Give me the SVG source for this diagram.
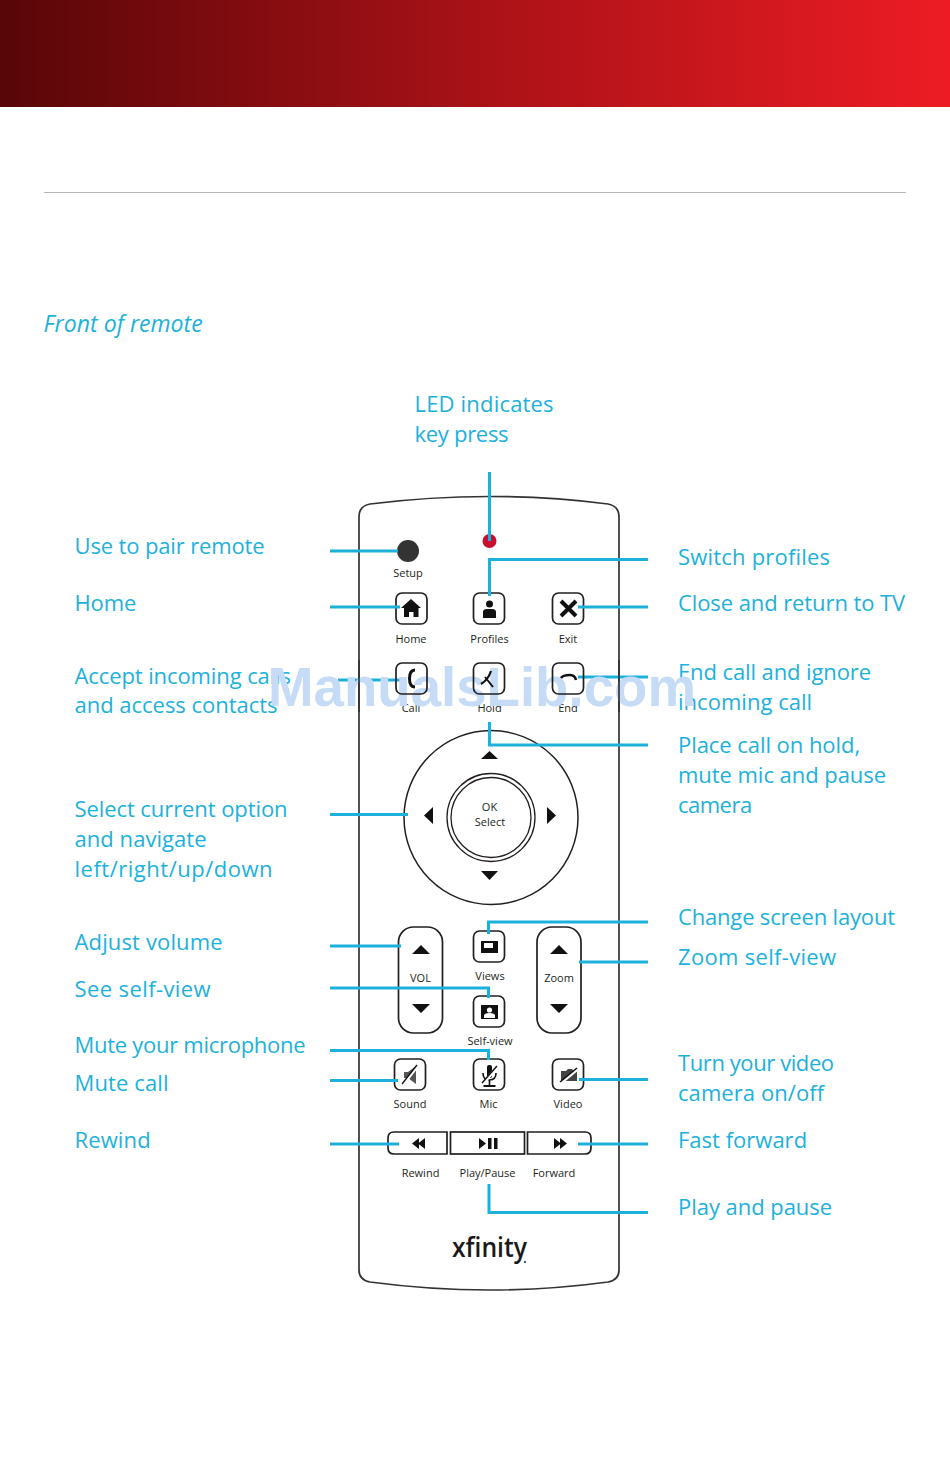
<svg xmlns="http://www.w3.org/2000/svg" width="950" height="1480" viewBox="0 0 950 1480">
<defs>
<linearGradient id="hdr" x1="0" x2="1" y1="0" y2="0"><stop offset="0" stop-color="#580608"/><stop offset="0.5" stop-color="#a81217"/><stop offset="1" stop-color="#ed1c24"/></linearGradient>
</defs>
<style>
text{font-family:"Open Sans","Noto Sans","Liberation Sans",sans-serif}
.lb{font-size:22px;fill:#1cb1dc;letter-spacing:-.1px}
.k{font-size:11px;fill:#231f20;text-anchor:middle}
.btn{fill:none;stroke:#231f20;stroke-width:1.7}
.c{fill:none;stroke:#1cb1dc;stroke-width:3}
.g{fill:#111}
.sl{stroke:#111;stroke-width:1.6;fill:none}
.wm{font-family:"Liberation Sans",sans-serif;font-size:56px;font-weight:700;fill:#c6dbf6}
</style>
<rect width="950" height="1480" fill="#fff"/>
<rect width="950" height="107" fill="url(#hdr)"/>
<line x1="44" x2="906" y1="192.500" y2="192.500" stroke="#b5b5b5" stroke-width="1"/>
<text x="43.500" y="332" font-size="23" font-style="italic" letter-spacing=".05" style="fill:#1cb1dc">Front of remote</text>
<g id="remote">
<path d="M370 504Q490 489 608 504Q619 506 619 517V1270Q619 1280 608 1282Q490 1298 370 1282Q359 1280 359 1270V517Q359 506 370 504Z" fill="#fff" stroke="#333" stroke-width="1.7"/>
</g>
<g id="led"><circle cx="489.500" cy="541" r="7" fill="#c8102e"/></g>
<g id="setup"><circle cx="408" cy="551" r="11" fill="#333"/><text class="k" x="408" y="576.500">Setup</text></g>
<g id="home"><rect class="btn" x="396" y="593" width="31" height="31" rx="6"/><path class="g" d="M411 599L421 608H418.500V617H413.500V612H409V617H404V608H401Z"/><text class="k" x="411" y="643">Home</text></g>
<g id="profiles"><rect class="btn" x="473.500" y="593" width="31" height="31" rx="6"/><circle class="g" cx="489.500" cy="604" r="3.500"/><path class="g" d="M483 618V612Q483 609 487 609H492Q496 609 496 612V618Z"/><text class="k" x="489.500" y="643">Profiles</text></g>
<g id="exit"><rect class="btn" x="552.500" y="593" width="31" height="31" rx="6"/><path d="M561 601L576 616M576 601L561 616" stroke="#111" stroke-width="4" fill="none"/><text class="k" x="568" y="643">Exit</text></g>
<g id="dpad">
<circle cx="491" cy="817.500" r="87" fill="none" stroke="#231f20" stroke-width="1.500"/>
<circle cx="491" cy="817.500" r="44" fill="none" stroke="#231f20" stroke-width="1.300"/>
<circle cx="491" cy="817.500" r="40" fill="none" stroke="#231f20" stroke-width="1.300"/>
<path class="g" d="M481 759H498L489.500 751ZM481 871H498L489.500 880ZM433 807V824L424 815.500ZM547 807V824L556 815.500Z"/>
<text class="k" x="489.500" y="811">OK</text><text class="k" x="490" y="826">Select</text>
</g>
<g id="vol"><rect class="btn" x="398.500" y="927" width="44" height="106" rx="15"/><path class="g" d="M412 954H430L421 945ZM412 1004H430L421 1013Z"/><text class="k" x="420.500" y="982">VOL</text></g>
<g id="zoom"><rect class="btn" x="537" y="927" width="44" height="106" rx="15"/><path class="g" d="M550 954H568L559 945ZM550 1004H568L559 1013Z"/><text class="k" x="559" y="982">Zoom</text></g>
<g id="views"><rect class="btn" x="473.500" y="931" width="31" height="31" rx="6"/><rect class="g" x="481" y="941" width="17" height="12"/><rect x="484" y="943" width="9" height="5" fill="#fff"/><text class="k" x="490" y="980">Views</text></g>
<g id="selfview"><rect class="btn" x="473.500" y="996" width="31" height="31" rx="6"/><rect class="g" x="481" y="1005" width="17" height="14"/><circle cx="489.500" cy="1010" r="2.600" fill="#fff"/><path d="M484 1018V1015Q485 1013 489.500 1013Q494 1013 495 1015V1018Z" fill="#fff"/><text class="k" x="490" y="1045">Self-view</text></g>
<g id="sound"><rect class="btn" x="394.500" y="1059" width="31" height="31" rx="6"/><path fill="#555" d="M404 1072H408L416 1066V1084L408 1078H404Z"/><path d="M403 1085L418 1066" stroke="#fff" stroke-width="2.500"/><path d="M402 1084L417 1065" stroke="#111" stroke-width="1.300"/><text class="k" x="410" y="1108">Sound</text></g>
<g id="mic"><rect class="btn" x="473.500" y="1059" width="31" height="31" rx="6"/><rect class="g" x="487" y="1065" width="5" height="13" rx="2"/><path class="sl" d="M483 1073Q483 1080 489.500 1080Q496 1080 496 1073M489.500 1080V1085"/><path d="M483.500 1086H495.500" stroke="#111" stroke-width="2"/><path d="M483 1084L497 1067" stroke="#fff" stroke-width="3"/><path d="M482 1083L497 1066" stroke="#111" stroke-width="1.400"/><text class="k" x="488.500" y="1108">Mic</text></g>
<g id="video"><rect class="btn" x="552.500" y="1059" width="31" height="31" rx="6"/><path fill="#444" d="M561 1071H566L568 1069H572L574 1072L577 1070V1081H561Z"/><path d="M560 1084L577 1070" stroke="#fff" stroke-width="2.500"/><path class="sl" d="M560 1082L577 1068"/><text class="k" x="568" y="1108">Video</text></g>
<g id="rewind"><path class="btn" d="M447 1132V1154H394Q388 1154 388 1148V1138Q388 1132 394 1132Z"/><path class="g" d="M419 1138V1149L412 1143.500ZM425 1138V1149L418 1143.500Z"/><text class="k" x="420.500" y="1177">Rewind</text></g>
<g id="playpause"><rect class="btn" x="450.500" y="1132" width="74" height="22"/><path class="g" d="M479 1138V1149L486 1143.500Z"/><rect class="g" x="488" y="1138" width="3.500" height="11"/><rect class="g" x="494" y="1138" width="3.500" height="11"/><text class="k" x="487.500" y="1177">Play/Pause</text></g>
<g id="forward"><path class="btn" d="M527.500 1132H585Q591 1132 591 1138V1148Q591 1154 585 1154H527.500Z"/><path class="g" d="M554 1138V1149L561 1143.500ZM560 1138V1149L567 1143.500Z"/><text class="k" x="554" y="1177">Forward</text></g>
<g id="logo"><text x="452" y="1257" font-size="27" font-weight="600" textLength="75" lengthAdjust="spacingAndGlyphs" style="fill:#1a1a1a">xfinity</text><circle cx="525" cy="1262" r="1" fill="#1a1a1a"/></g>
<g id="connectors">
<path class="c" d="M489.500 472V541"/>
<path class="c" d="M330 551H398"/>
<path class="c" d="M648 559.500H489.500V596"/>
<path class="c" d="M330 607H400"/>
<path class="c" d="M648 607H578"/>
<path class="c" d="M338 680H400"/>
<path class="c" d="M648 677H578"/>
<path class="c" d="M648 745H489.500V722"/>
<path class="c" d="M330 814.500H408"/>
<path class="c" d="M648 922H488.500V934"/>
<path class="c" d="M648 962H579"/>
<path class="c" d="M330 946H401"/>
<path class="c" d="M330 988H488.500V998"/>
<path class="c" d="M330 1050.500H488.500V1060"/>
<path class="c" d="M330 1080.500H398"/>
<path class="c" d="M648 1079.500H579"/>
<path class="c" d="M330 1144H399"/>
<path class="c" d="M648 1144H578"/>
<path class="c" d="M489 1184V1212.500H648"/>
</g>
<g id="labels" transform="translate(-.5 -.5)">
<text class="lb" x="415" y="412" textLength="139">LED indicates</text><text class="lb" x="415" y="442" textLength="94">key press</text>
<text class="lb" x="75" y="554" textLength="190">Use to pair remote</text>
<text class="lb" x="75" y="611">Home</text>
<text class="lb" x="75" y="684">Accept incoming calls</text><text class="lb" x="75" y="713" textLength="203">and access contacts</text>
<text class="lb" x="75" y="817" textLength="213">Select current option</text><text class="lb" x="75" y="847" textLength="132">and navigate</text><text class="lb" x="75" y="877" textLength="198">left/right/up/down</text>
<text class="lb" x="75" y="950" textLength="148">Adjust volume</text>
<text class="lb" x="75" y="997" textLength="136">See self-view</text>
<text class="lb" x="75" y="1053" textLength="231">Mute your microphone</text>
<text class="lb" x="75" y="1091" textLength="94">Mute call</text>
<text class="lb" x="75" y="1148" textLength="76">Rewind</text>
<text class="lb" x="678.500" y="565" textLength="152">Switch profiles</text>
<text class="lb" x="678.500" y="611" textLength="227">Close and return to TV</text>
<text class="lb" x="678.500" y="680" textLength="193">End call and ignore</text><text class="lb" x="678.500" y="710" textLength="134">incoming call</text>
<text class="lb" x="678.500" y="753" textLength="182">Place call on hold,</text><text class="lb" x="678.500" y="783" textLength="208">mute mic and pause</text><text class="lb" x="678.500" y="813" textLength="74">camera</text>
<text class="lb" x="678.500" y="925" textLength="217">Change screen layout</text>
<text class="lb" x="678.500" y="965" textLength="158">Zoom self-view</text>
<text class="lb" x="678.500" y="1071" textLength="156">Turn your video</text><text class="lb" x="678.500" y="1101" textLength="146">camera on/off</text>
<text class="lb" x="678.500" y="1148" textLength="129">Fast forward</text>
<text class="lb" x="678.500" y="1215" textLength="154">Play and pause</text>
</g>
<g id="row-labels">
<text class="k" x="411" y="712">Call</text>
<text class="k" x="489.500" y="712">Hold</text>
<text class="k" x="568" y="712">End</text>
</g>
<text class="wm" x="268" y="705.500" textLength="428" lengthAdjust="spacingAndGlyphs">ManualsLib.com</text>
<g id="remote-edges"><path d="M359 660V712M619 660V712" stroke="#333" stroke-width="1.700" fill="none"/></g>
<g id="call"><rect class="btn" x="396" y="663" width="31" height="31" rx="6"/><path d="M415 670Q409.500 670 409.500 678.500Q409.500 687 415 687" stroke="#111" stroke-width="3" fill="none"/></g>
<g id="hold"><rect class="btn" x="473.500" y="663" width="31" height="31" rx="6"/><path d="M491 671Q488 680 481 684" stroke="#111" stroke-width="2.200" fill="none"/><path d="M485 677L493 687" stroke="#111" stroke-width="2" fill="none"/></g>
<g id="end"><rect class="btn" x="552.500" y="663" width="31" height="31" rx="6"/><path d="M561 678Q563 675 570 675Q575 675 576 680" stroke="#111" stroke-width="2.600" fill="none"/></g>
</svg>
